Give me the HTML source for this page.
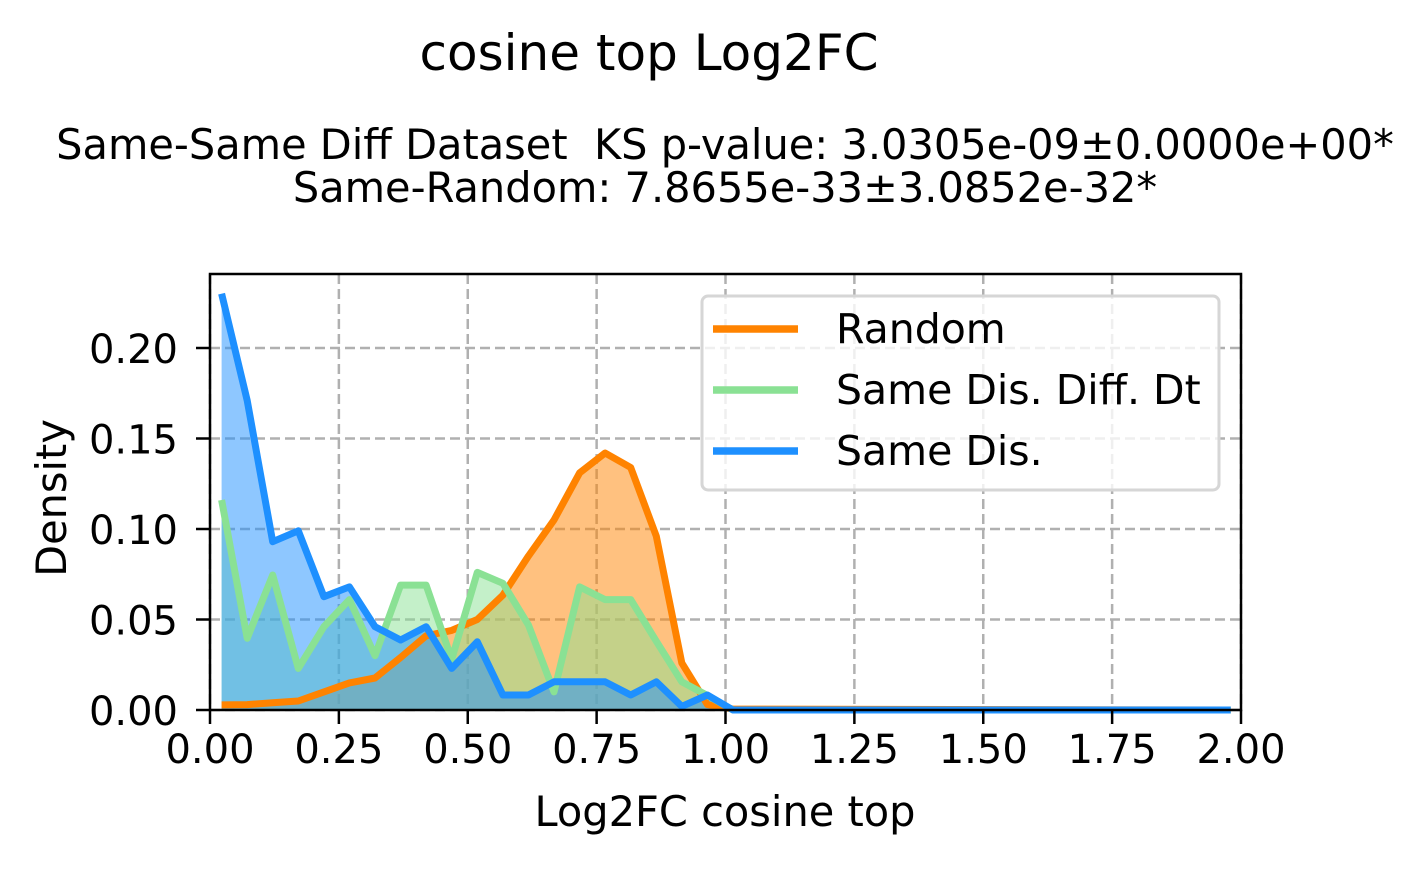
<!DOCTYPE html>
<html><head><meta charset="utf-8"><style>
body{margin:0;background:#fff;font-family:"DejaVu Sans","Liberation Sans",sans-serif;}
svg text{font-family:"DejaVu Sans","Liberation Sans",sans-serif;white-space:pre;}
</style></head><body>
<svg id="chart" width="1426" height="866" xmlns="http://www.w3.org/2000/svg">
<text x="649" y="70" style="font-size:50px" text-anchor="middle">cosine top Log2FC</text>
<text x="725" y="159" style="font-size:41.5px" text-anchor="middle">Same-Same Diff Dataset  KS p-value: 3.0305e-09±0.0000e+00*</text>
<text x="725" y="202" style="font-size:41.5px" text-anchor="middle">Same-Random: 7.8655e-33±3.0852e-32*</text>
<g id="grid"></g>
<g id="fills"></g>
<g id="lines"></g>
<g id="axes"></g>
<text x="725" y="826" style="font-size:41.5px" text-anchor="middle">Log2FC cosine top</text>
<text transform="translate(66,498) rotate(-90)" style="font-size:41.5px" text-anchor="middle">Density</text>
<g id="legend">
<rect x="702" y="296" width="517" height="194" rx="6" fill="#fff" fill-opacity="0.8" stroke="#d6d6d6" stroke-width="3"/>
<line x1="713" y1="329" x2="798" y2="329" stroke="#ff8300" stroke-width="7.5"/>
<text x="836" y="343" style="font-size:41px">Random</text>
<line x1="713" y1="390" x2="798" y2="390" stroke="#8ae194" stroke-width="7.5"/>
<text x="836" y="404" style="font-size:41px">Same Dis. Diff. Dt</text>
<line x1="713" y1="451" x2="798" y2="451" stroke="#1e90ff" stroke-width="7.5"/>
<text x="836" y="465" style="font-size:41px">Same Dis.</text>
</g>
</svg>
<script>
const xTicks=[0,0.25,0.5,0.75,1.0,1.25,1.5,1.75,2.0];
const xTickLabels=["0.00","0.25","0.50","0.75","1.00","1.25","1.50","1.75","2.00"];
const yTicks=[0,0.05,0.1,0.15,0.2];
const yTickLabels=["0.00","0.05","0.10","0.15","0.20"];
const randomVals=[0.0028,0.003,0.004,0.005,0.010,0.015,0.0177,0.029,0.041,0.044,0.050,0.0635,0.085,0.105,0.131,0.142,0.134,0.096,0.026,0.003,0.0005];
const diffDtVals=[0.116,0.0396,0.0746,0.023,0.046,0.061,0.030,0.069,0.069,0.028,0.076,0.070,0.047,0.010,0.068,0.061,0.061,0.038,0.0156,0.008,0];
const sameDisVals=[0.230,0.171,0.093,0.099,0.0626,0.068,0.046,0.0387,0.046,0.023,0.0377,0.0083,0.0083,0.0156,0.0156,0.0156,0.0083,0.0156,0.002,0.0083,0];
const binStart=0.0225, binStep=0.0496, xEnd=1.98;
const X0=210,X1=1241,Y0=710,YT=274,xmax=2.0,ymax=(710-274)/1810;
const xs=v=>X0+(v/xmax)*(X1-X0);
const ys=v=>Y0-(v/ymax)*(Y0-YT);
const NS="http://www.w3.org/2000/svg";
function mk(tag,attrs,parent){const e=document.createElementNS(NS,tag);for(const k in attrs)e.setAttribute(k,attrs[k]);parent.appendChild(e);return e;}
const grid=document.getElementById('grid'),axes=document.getElementById('axes'),fills=document.getElementById('fills'),lines=document.getElementById('lines');
xTicks.forEach((t,i)=>{
 const g=mk('line',{x1:xs(t),x2:xs(t),y1:YT,y2:Y0,stroke:'#b0b0b0','stroke-width':2.5,'stroke-dasharray':'10,5'},grid);
 
 
 const tk=mk('line',{x1:xs(t),x2:xs(t),y1:Y0,y2:Y0+14,stroke:'#000','stroke-width':2.5},axes);
 
 
 const tl=mk('text',{x:xs(t),y:Y0+53,style:'font-size:40px','text-anchor':'middle'},axes);
 tl.textContent=xTickLabels[i];
 
 
});
yTicks.forEach((t,i)=>{
 const g=mk('line',{x1:X0,x2:X1,y1:ys(t),y2:ys(t),stroke:'#b0b0b0','stroke-width':2.5,'stroke-dasharray':'10,5'},grid);
 
 
 const tk=mk('line',{x1:X0-14,x2:X0,y1:ys(t),y2:ys(t),stroke:'#000','stroke-width':2.5},axes);
 
 
 const tl=mk('text',{x:X0-32,y:ys(t)+15,style:'font-size:40px','text-anchor':'end'},axes);
 tl.textContent=yTickLabels[i];
 
 
});
const frame=mk('rect',{x:X0,y:YT,width:X1-X0,height:Y0-YT,fill:'none',stroke:'#000','stroke-width':2.5},axes);


function pts(vals){const p=vals.map((v,i)=>[xs(binStart+binStep*i),ys(v)]);p.push([xs(xEnd),ys(0)]);return p;}
const series=[[randomVals,'#ff8300','#ff8300','random'],[diffDtVals,'#8ae194','#8ae194','same-dis-diff-dt'],[sameDisVals,'#1e90ff','#1e90ff','same-dis']];
series.forEach(([vals,lc,fc,name])=>{
 const p=pts(vals);
 const d=p.map((q,i)=>(i?'L':'M')+q[0].toFixed(1)+','+q[1].toFixed(1)).join('');
 const f=mk('path',{d:d+`L${p[p.length-1][0]},${Y0}L${p[0][0]},${Y0}Z`,fill:fc,'fill-opacity':0.5,stroke:'none'},fills);
 
 
 const l=mk('path',{d:d,fill:'none',stroke:lc,'stroke-width':7,'stroke-linejoin':'round'},lines);
 
 
});
</script>
</body></html>
